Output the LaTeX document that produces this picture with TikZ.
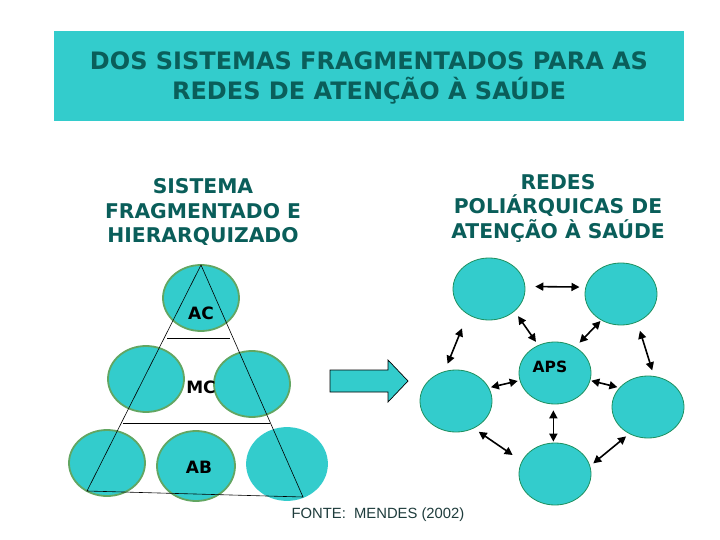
\documentclass[tikz,border=0pt]{standalone}
\usepackage{fontspec}
\setmainfont{DejaVu Sans}
\newfontfamily\arialf{Liberation Sans}
\usetikzlibrary{shapes.geometric,arrows.meta}
\definecolor{tealfill}{HTML}{33CCCC}
\definecolor{titletext}{HTML}{0A5E5A}
\definecolor{leftborder}{HTML}{62A662}
\definecolor{rightborder}{HTML}{1E9060}
\definecolor{fontetext}{HTML}{1E3C3C}
\begin{document}
\begin{tikzpicture}[x=1pt,y=-1pt,
  leftcirc/.style={ellipse, fill=tealfill, draw=leftborder, line width=1.8pt, inner sep=0pt, minimum width=76pt, minimum height=66pt},
  rightcirc/.style={ellipse, fill=tealfill, draw=rightborder, line width=0.8pt, inner sep=0pt, minimum width=72pt, minimum height=62pt},
  heading/.style={align=center, text=titletext, font=\bfseries\fontsize{20.3}{24.5}\selectfont},
  lvl/.style={font=\bfseries\fontsize{17}{19}\selectfont, text=black},
  biarrow/.style={{Triangle[length=8pt,width=8pt]}-{Triangle[length=8pt,width=8pt]}, line width=1.6pt},
  tri/.style={black, line width=0.6pt}
]
\useasboundingbox (0,0) rectangle (720,540);
\fill[white] (0,0) rectangle (720,540);
% title
\node[fill=tealfill, minimum width=630pt, minimum height=90pt, inner sep=0pt, anchor=north west] (titlebox) at (54,31) {};
\node[align=center, text=titletext, font=\bfseries\fontsize{24}{30}\selectfont] (title) at (369,78) {DOS SISTEMAS FRAGMENTADOS PARA AS\\REDES DE ATENÇÃO À SAÚDE};
% headings
\node[heading] (lhead) at (203,212) {SISTEMA\\FRAGMENTADO E\\HIERARQUIZADO};
\node[heading] (rhead) at (558,208) {REDES\\POLIÁRQUICAS DE\\ATENÇÃO À SAÚDE};
% left pyramid circles
\node[leftcirc] (ac) at (201,298) {};
\node[leftcirc] (mcl) at (146,379) {};
\node[leftcirc] (mcr) at (252,384) {};
\node[leftcirc] (abl) at (107,463) {};
\node[leftcirc, minimum width=78pt, minimum height=70pt] (abc) at (196,466) {};
\node[leftcirc, draw=tealfill, minimum width=80pt, minimum height=72pt] (abr) at (287,464) {};
% triangle
\coordinate (apex) at (201,265);
\coordinate (bl) at (87,491);
\coordinate (br) at (303,497);
\draw[tri] (apex) -- (bl) -- (br) -- cycle;
\draw[tri] (167,338) -- (230,338);
\draw[tri] (123,423) -- (270,423);
\node[lvl] (aclab) at (201,313) {AC};
\node[lvl] (mclab) at (201,387) {MC};
\node[lvl] (ablab) at (199,467) {AB};
% block arrow
\draw[fill=tealfill, draw=black, line width=0.7pt] (330,370) -- (388,370) -- (388,360) -- (408,381) -- (388,402) -- (388,392) -- (330,392) -- cycle;
% network
\node[rightcirc] (tl) at (489,289) {};
\node[rightcirc] (tr) at (621,294) {};
\node[rightcirc] (aps) at (555,373) {};
\node[rightcirc] (le) at (456,401) {};
\node[rightcirc] (ri) at (648,407) {};
\node[rightcirc] (bo) at (555,474) {};
\node[font=\bfseries\fontsize{15.5}{17}\selectfont] (apslab) at (550,367) {APS};
\draw[biarrow, shorten <=10pt, shorten >=6pt] (tl.4) -- (tr.169);
\draw[biarrow, shorten <=6pt, shorten >=4pt] (tl.-41) -- (aps.121);
\draw[biarrow, shorten <=1pt, shorten >=6pt] (tr.233) -- (aps.52);
\draw[biarrow, shorten <=15pt, shorten >=8pt] (tl.230) -- (le.111);
\draw[biarrow, shorten <=9pt, shorten >=6pt] (tr.-60) -- (ri.79);
\draw[biarrow, shorten <=2pt, shorten >=2pt] (le.22) -- (aps.192);
\draw[biarrow, shorten <=1pt, shorten >=2pt] (aps.-12) -- (ri.146);
\draw[biarrow, shorten <=6pt, shorten >=1pt] (aps.-93) -- (bo.93);
\draw[biarrow, shorten <=6pt, shorten >=11pt] (le.-57) -- (bo.159);
\draw[biarrow, shorten <=4pt, shorten >=4pt] (ri.235) -- (bo.13);
% source
\node[font=\arialf\fontsize{14.8}{16}\selectfont, text=fontetext] (fonte) at (378,515) {FONTE:\ \ MENDES (2002)};
\end{tikzpicture}
\end{document}
